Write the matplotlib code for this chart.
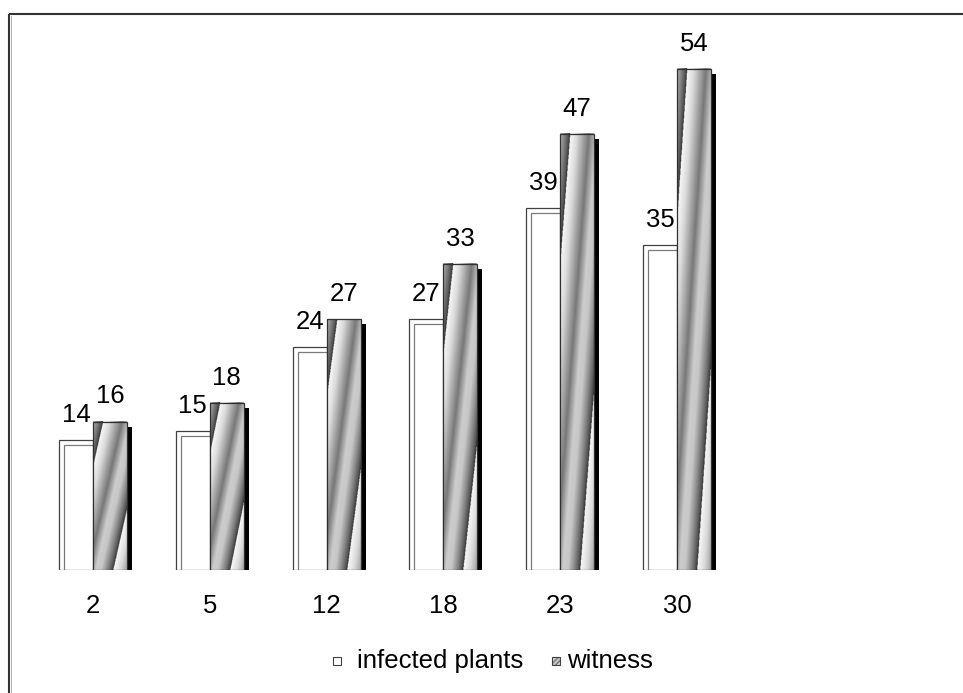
import numpy as np
import matplotlib
matplotlib.use("Agg")
import matplotlib.pyplot as plt
from matplotlib.patches import Rectangle

plt.rcParams['font.family'] = ['Liberation Sans', 'DejaVu Sans']

days = ['2', '5', '12', '18', '23', '30']
infected = [14, 15, 24, 27, 39, 35]
witness = [16, 18, 27, 33, 47, 54]

W, H = 963, 693
PX_PER_CAT = 116.8
PX_PER_UNIT = 9.278
BAR_W = 34 / PX_PER_CAT
SH_X = 5 / PX_PER_CAT
SH_Y = 5 / PX_PER_UNIT
FS = 18.5


def stripe_fill(nrows=300, ncols=80):
    # diagonal sawtooth shading, stretched over the whole bar
    u = np.linspace(0, 1, ncols)[None, :]
    t = np.linspace(0, 1, nrows)[:, None]
    phase = ((u - t - 0.6) / 1.3) % 1.0
    xp = [0.0, 0.15, 0.43, 0.6, 0.72, 0.85, 0.95, 1.0]
    fp = [0.97, 0.86, 0.47, 0.8, 0.78, 0.55, 0.35, 0.2]
    return np.interp(phase, xp, fp)


fig = plt.figure(figsize=(W / 100, H / 100), dpi=100)

# outer frame of the chart area
bg = fig.add_axes([0, 0, 1, 1])
bg.set_xlim(0, W)
bg.set_ylim(H, 0)
bg.axis('off')
bg.add_patch(Rectangle((9, 14), 1200, 1000, fill=False, edgecolor='#333333', lw=1.5))
bg.plot([11, 11], [16, H], color='#b0b0b0', lw=0.7)

left = 93 - PX_PER_CAT / 2
bottom = H - 570
ax = fig.add_axes([left / W, bottom / H, 6 * PX_PER_CAT / W, 550 / H])
ax.axis('off')

img = stripe_fill()
for i, (a, b) in enumerate(zip(infected, witness)):
    x0 = i - BAR_W
    # infected plants: open bar with offset outline
    ax.add_patch(Rectangle((x0 + SH_X, -SH_Y), BAR_W, a, fill=False,
                           edgecolor='#7a7a7a', lw=0.9, zorder=1))
    ax.add_patch(Rectangle((x0, 0), BAR_W, a, fill=False,
                           edgecolor='#404040', lw=0.9, zorder=2))
    # witness: black drop shadow + shaded bar
    ax.add_patch(Rectangle((i + SH_X, -SH_Y), BAR_W, b, facecolor='black',
                           edgecolor='none', zorder=3))
    ax.imshow(img, cmap='gray', vmin=0, vmax=1, origin='lower', aspect='auto',
              extent=(i, i + BAR_W, 0, b), interpolation='antialiased', zorder=4)
    ax.add_patch(Rectangle((i, 0), BAR_W, b, fill=False,
                           edgecolor='#303030', lw=0.9, zorder=5))

    ax.annotate(str(a), (x0 + BAR_W / 2, a), xytext=(0, 13), textcoords='offset points',
                ha='center', va='baseline', fontsize=FS, zorder=6)
    ax.annotate(str(b), (i + BAR_W / 2, b), xytext=(0, 13), textcoords='offset points',
                ha='center', va='baseline', fontsize=FS, zorder=6)
    ax.annotate(days[i], (i, 0), xytext=(0, -31), textcoords='offset points',
                ha='center', va='baseline', fontsize=FS)

ax.set_xlim(-0.5, 5.5)
ax.set_ylim(0, 550 / PX_PER_UNIT)

# legend
bg.add_patch(Rectangle((333, 657), 8, 8, facecolor='white', edgecolor='#404040', lw=0.8))
bg.text(357, 668, 'infected plants', fontsize=FS, va='baseline', ha='left')
bg.imshow(stripe_fill(40, 40)[::-1], cmap='gray', vmin=0, vmax=1,
          extent=(552, 560, 665, 657), aspect='auto', zorder=3)
bg.add_patch(Rectangle((552, 657), 8, 8, fill=False, edgecolor='#404040', lw=0.8, zorder=4))
bg.text(567, 668, 'witness', fontsize=FS, va='baseline', ha='left')
bg.set_xlim(0, W)
bg.set_ylim(H, 0)

fig.savefig('out.png', dpi=100)
